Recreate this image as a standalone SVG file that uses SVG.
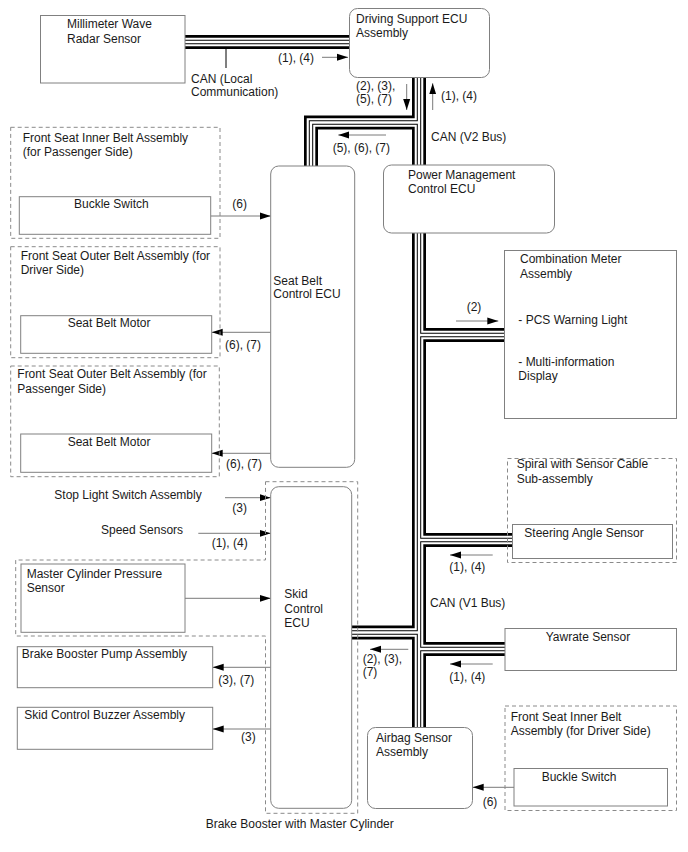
<svg xmlns="http://www.w3.org/2000/svg" width="688" height="852" viewBox="0 0 688 852">
<style>
text{font-family:"Liberation Sans",Arial,sans-serif;font-size:12px;fill:#1a1a1a}
.box{fill:#fff;stroke:#808080;stroke-width:1}
.dash{fill:none;stroke:#8a8a8a;stroke-width:1;stroke-dasharray:4,3}
.ln{fill:none;stroke:#7a7a7a;stroke-width:1;marker-end:url(#ah)}
.b1{fill:none;stroke:#000;stroke-width:14;stroke-linejoin:miter}
.b2{fill:none;stroke:#fff;stroke-width:8.6;stroke-linejoin:miter}
.b3{fill:none;stroke:#000;stroke-width:4.4;stroke-linejoin:miter}
.b4{fill:none;stroke:#fff;stroke-width:2.4;stroke-linejoin:miter}
</style>
<defs>
<marker id="ah" markerWidth="12" markerHeight="8" refX="11" refY="4" orient="auto" markerUnits="userSpaceOnUse"><path d="M0,0.5 L11,4 L0,7.5 Z" fill="#000"/></marker>
<path id="bus" d="M185,42 H349.5 M419,77.5 V165 M419,233 V727.5 M419,122.5 H311 V166 M419,335 H504.5 M419,540 H512.5 M351.7,632.5 H419 M419,649 H505"/>
</defs>
<rect width="688" height="852" fill="#fff"/>
<g id="connectors">
<use href="#bus" class="b1"/>
<use href="#bus" class="b2"/>
<use href="#bus" class="b3"/>
<use href="#bus" class="b4"/>
<path d="M226,49 V68" stroke="#000" stroke-width="1" fill="none"/>
<path class="ln" d="M322,57.3 H348"/>
<path class="ln" d="M406.7,84 V110"/>
<path class="ln" d="M432.7,110 V83.3"/>
<path class="ln" d="M386,135 H338.3"/>
<path class="ln" d="M456,321 H498.3"/>
<path class="ln" d="M492.7,555 H450"/>
<path class="ln" d="M408.3,649.3 H370"/>
<path class="ln" d="M492.7,664 H450"/>
<path class="ln" d="M210.7,216 H270.7"/>
<path class="ln" d="M270.7,332.3 H211.7"/>
<path class="ln" d="M270.7,453.3 H211.7"/>
<path class="ln" d="M225,497.7 H270.7"/>
<path class="ln" d="M198.3,533.3 H270.7"/>
<path class="ln" d="M185,598.3 H270.7"/>
<path class="ln" d="M270.7,667.3 H212.7"/>
<path class="ln" d="M270.7,729 H212.7"/>
<path class="ln" d="M514,787.3 H472.7"/>
<text x="278" y="62">(1), (4)</text>
<text x="191" y="83">CAN (Local</text>
<text x="191" y="96">Communication)</text>
<text x="356" y="90">(2), (3),</text>
<text x="356" y="102.7">(5), (7)</text>
<text x="441" y="100">(1), (4)</text>
<text x="431" y="140.7">CAN (V2 Bus)</text>
<text x="332.7" y="151.7">(5), (6), (7)</text>
<text x="466.7" y="311">(2)</text>
<text x="449.3" y="571">(1), (4)</text>
<text x="430" y="606.7">CAN (V1 Bus)</text>
<text x="362.7" y="663.3">(2), (3),</text>
<text x="362.7" y="676">(7)</text>
<text x="449.3" y="681">(1), (4)</text>
<text x="232.3" y="208.3">(6)</text>
<text x="225" y="349.3">(6), (7)</text>
<text x="226" y="468.3">(6), (7)</text>
<text x="232.3" y="511.7">(3)</text>
<text x="211.7" y="547.3">(1), (4)</text>
<text x="218.3" y="684.3">(3), (7)</text>
<text x="241" y="741">(3)</text>
<text x="482.7" y="806">(6)</text>
</g>
<g id="radar">
<rect class="box" x="40.5" y="15.5" width="144.5" height="67.5"/>
<text x="67" y="28">Millimeter Wave</text>
<text x="67" y="42.7">Radar Sensor</text>
</g>
<g id="driving-support-ecu">
<rect class="box" x="349.5" y="8.5" width="140" height="69" rx="8"/>
<text x="356" y="22.7">Driving Support ECU</text>
<text x="356" y="36.7">Assembly</text>
</g>
<g id="power-management-ecu">
<rect class="box" x="383.5" y="165" width="171" height="68" rx="8"/>
<text x="408" y="179.3">Power Management</text>
<text x="408" y="193.3">Control ECU</text>
</g>
<g id="combination-meter">
<rect class="box" x="504.5" y="250.5" width="172" height="168"/>
<text x="520" y="263.3">Combination Meter</text>
<text x="520" y="277.7">Assembly</text>
<text x="518.3" y="324.3">- PCS Warning Light</text>
<text x="518.3" y="366">- Multi-information</text>
<text x="518.3" y="380">Display</text>
</g>
<g id="spiral-cable">
<rect class="dash" x="507.5" y="458.5" width="169" height="104"/>
<text x="516.7" y="468.3">Spiral with Sensor Cable</text>
<text x="516.7" y="482.7">Sub-assembly</text>
</g>
<g id="steering-angle-sensor">
<rect class="box" x="512.5" y="524.5" width="160" height="34"/>
<text x="524.3" y="536.7">Steering Angle Sensor</text>
</g>
<g id="yawrate-sensor">
<rect class="box" x="505" y="628.5" width="171.5" height="42"/>
<text x="545.7" y="641">Yawrate Sensor</text>
</g>
<g id="airbag-sensor">
<rect class="box" x="367.5" y="727.5" width="105" height="81" rx="8"/>
<text x="376" y="741.7">Airbag Sensor</text>
<text x="376" y="756">Assembly</text>
</g>
<g id="inner-belt-driver">
<rect class="dash" x="505" y="706" width="171.5" height="104.5"/>
<text x="510.7" y="721">Front Seat Inner Belt</text>
<text x="510.7" y="735">Assembly (for Driver Side)</text>
</g>
<g id="buckle-switch-driver">
<rect class="box" x="514" y="768.5" width="153.5" height="37.5"/>
<text x="541.7" y="780.7">Buckle Switch</text>
</g>
<g id="inner-belt-passenger">
<rect class="dash" x="10.7" y="127.3" width="209.3" height="111"/>
<text x="22.7" y="141.7">Front Seat Inner Belt Assembly</text>
<text x="22.7" y="156">(for Passenger Side)</text>
</g>
<g id="buckle-switch-passenger">
<rect class="box" x="19.3" y="196.7" width="191.4" height="37.6"/>
<text x="74" y="208.3">Buckle Switch</text>
</g>
<g id="seat-belt-ecu">
<rect class="box" x="270.7" y="166" width="84" height="301.3" rx="8"/>
<text x="273.3" y="285">Seat Belt</text>
<text x="273.3" y="298.3">Control ECU</text>
</g>
<g id="outer-belt-driver">
<rect class="dash" x="10.7" y="246.7" width="209.3" height="111"/>
<text x="20.7" y="260">Front Seat Outer Belt Assembly (for</text>
<text x="20.7" y="274.3">Driver Side)</text>
</g>
<g id="motor-driver">
<rect class="box" x="20.7" y="315.7" width="191" height="37.6"/>
<text x="67.7" y="327.3">Seat Belt Motor</text>
</g>
<g id="outer-belt-passenger">
<rect class="dash" x="10.7" y="366" width="208.6" height="110.7"/>
<text x="17.3" y="378.3">Front Seat Outer Belt Assembly (for</text>
<text x="17.3" y="392.7">Passenger Side)</text>
</g>
<g id="motor-passenger">
<rect class="box" x="20.7" y="434" width="191" height="38.3"/>
<text x="67.7" y="446">Seat Belt Motor</text>
</g>
<g id="brake-booster">
<path class="dash" d="M265.5,481.7 H357.7 V813.3 H265.5 V636 H15.7 V560 H265.5 Z"/>
<text x="205.7" y="828.3">Brake Booster with Master Cylinder</text>
</g>
<g id="skid-control-ecu">
<rect class="box" x="270.7" y="486.7" width="81" height="321.6" rx="8"/>
<text x="284.3" y="598.3">Skid</text>
<text x="284.3" y="612.7">Control</text>
<text x="284.3" y="626.7">ECU</text>
</g>
<g id="master-cylinder-sensor">
<rect class="box" x="21" y="564" width="164" height="68.3"/>
<text x="26.7" y="578.3">Master Cylinder Pressure</text>
<text x="26.7" y="591.7">Sensor</text>
</g>
<g id="stop-light-switch">
<text x="54.3" y="499">Stop Light Switch Assembly</text>
</g>
<g id="speed-sensors">
<text x="101" y="534">Speed Sensors</text>
</g>
<g id="brake-booster-pump">
<rect class="box" x="17.3" y="646.7" width="195.4" height="41"/>
<text x="21.7" y="658.3">Brake Booster Pump Assembly</text>
</g>
<g id="skid-buzzer">
<rect class="box" x="17.3" y="707.3" width="195.4" height="42"/>
<text x="24.3" y="719.3">Skid Control Buzzer Assembly</text>
</g>
</svg>
